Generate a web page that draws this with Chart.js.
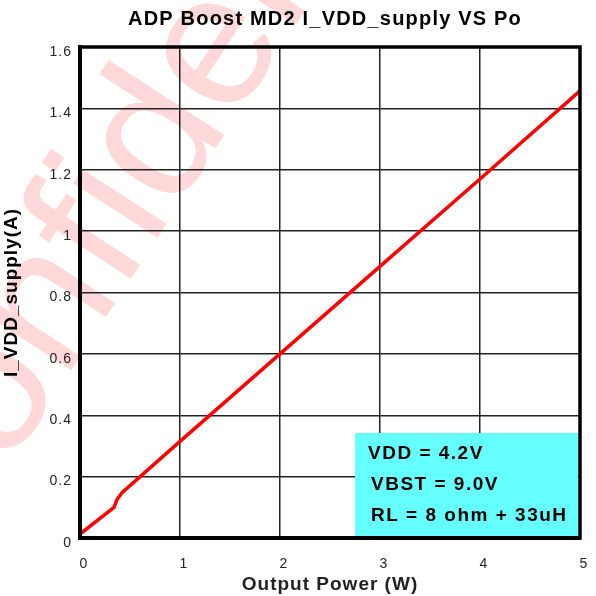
<!DOCTYPE html>
<html>
<head>
<meta charset="utf-8">
<script src="https://cdn.jsdelivr.net/npm/chart.js@4"></script>
<style>
  html, body { margin: 0; padding: 0; background: #fff; }
  #wrap { width: 596px; height: 596px; }
</style>
</head>
<body>
<div id="wrap"><canvas id="grafico" width="596" height="596"></canvas></div>
<script>
const potencia = [0, 0.34, 0.37, 0.42, 1, 2, 3, 4, 5];
const corriente = [0.013, 0.10, 0.125, 0.148, 0.315, 0.60, 0.885, 1.17, 1.457];
const xTicks = [0, 1, 2, 3, 4, 5];
const yTicks = [0, 0.2, 0.4, 0.6, 0.8, 1, 1.2, 1.4, 1.6];
const titulo = 'ADP Boost MD2 I_VDD_supply VS Po';
const notas = ['VDD = 4.2V', 'VBST = 9.0V', 'RL = 8 ohm + 33uH'];

const FONT = 'Liberation Sans, Arial, sans-serif';

const estilo = {
    id: 'estilo',
    beforeLayout(chart) {
        chart.ctx.letterSpacing = '1px';
    },
    beforeDraw(chart) {
        const ctx = chart.ctx;
        ctx.save();
        ctx.letterSpacing = '0px';
        ctx.translate(-68, 585);
        ctx.rotate(-57 * Math.PI / 180);
        ctx.font = '190px ' + FONT;
        ctx.fillStyle = '#ffd9d9';
        ctx.fillText('Confidential', 0, 0);
        ctx.restore();
        ctx.letterSpacing = '1px';
    },
    afterDatasetsDraw(chart) {
        const ctx = chart.ctx;
        ctx.save();
        ctx.fillStyle = '#66ffff';
        ctx.fillRect(355, 433, 223, 103);
        ctx.fillStyle = '#000';
        ctx.font = 'bold 19px ' + FONT;
        ctx.letterSpacing = '1.5px';
        ctx.textBaseline = 'middle';
        const xs = [368, 371, 371];
        notas.forEach((t, i) => ctx.fillText(t, xs[i], 454 + i * 31));
        ctx.restore();
    },
    afterDraw(chart) {
        const a = chart.chartArea;
        const ctx = chart.ctx;
        ctx.save();
        ctx.strokeStyle = '#000';
        ctx.lineWidth = 3.5;
        ctx.strokeRect(a.left, a.top, a.right - a.left, a.bottom - a.top);
        ctx.fillStyle = '#000';
        ctx.font = 'bold 20px ' + FONT;
        ctx.textAlign = 'center';
        ctx.textBaseline = 'middle';
        ctx.letterSpacing = '1.2px';
        ctx.fillText(titulo, 325, 19);
        ctx.restore();
    }
};

new Chart(document.getElementById('grafico'), {
    type: 'line',
    data: {
        datasets: [{
            data: potencia.map((x, i) => ({ x: x, y: corriente[i] })),
            borderColor: '#ff0000',
            borderWidth: 3.5,
            pointRadius: 0,
            tension: 0,
            fill: false
        }]
    },
    options: {
        responsive: false,
        animation: false,
        layout: { padding: { top: 47, right: 16, left: 0, bottom: 0 } },
        plugins: {
            legend: { display: false },
            tooltip: { enabled: false },
            title: { display: false }
        },
        scales: {
            x: {
                type: 'linear',
                min: 0, max: 5,
                afterFit: s => { s.height = 58; s.paddingLeft = 0; s.paddingRight = 0; },
                afterBuildTicks: s => { s.ticks = xTicks.map(v => ({ value: v })); },
                grid: { color: '#222', lineWidth: 1.5, drawTicks: false },
                border: { color: '#000', width: 4 },
                ticks: { color: '#222', padding: 18, labelOffset: 4, font: { family: FONT, size: 14 } },
                title: {
                    display: true,
                    text: 'Output Power (W)',
                    color: '#222',
                    font: { family: FONT, size: 19, weight: 'bold' },
                    padding: { top: 0, bottom: 0 }
                }
            },
            y: {
                min: 0, max: 1.6,
                afterFit: s => { s.width = 80; s.paddingTop = 0; s.paddingBottom = 0; },
                afterBuildTicks: s => { s.ticks = yTicks.map(v => ({ value: v })); },
                grid: { color: '#222', lineWidth: 1.5, drawTicks: false },
                border: { color: '#000', width: 4 },
                ticks: {
                    color: '#222', padding: 8, labelOffset: 5,
                    font: { family: FONT, size: 14 },
                    callback: v => String(v)
                },
                title: {
                    display: true,
                    text: 'I_VDD_supply(A)',
                    color: '#000',
                    font: { family: FONT, size: 19, weight: 'bold' },
                    padding: { top: 0, bottom: 2 }
                }
            }
        }
    },
    plugins: [estilo]
});
</script>
</body>
</html>
